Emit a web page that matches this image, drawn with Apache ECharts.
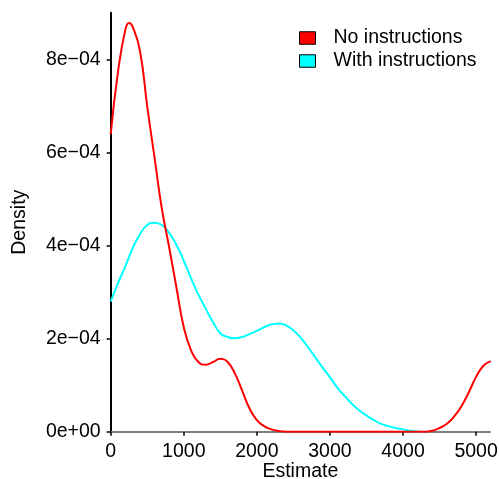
<!DOCTYPE html>
<html>
<head>
<meta charset="utf-8">
<script src="https://cdn.jsdelivr.net/npm/echarts@6/dist/echarts.min.js"></script>
<style>
  html, body { margin: 0; padding: 0; background: #fff; }
  #chart { width: 499px; height: 479px; }
</style>
</head>
<body>
<div id="chart"></div>
<script>
// density curves: [estimate, density in units of 1e-4]
var noInstr = [
  [0, 6.4], [100, 7.75], [200, 8.65], [250, 8.8], [300, 8.72], [400, 8.2],
  [500, 7.0], [600, 5.9], [700, 4.8], [800, 3.97], [900, 3.1], [1000, 2.25],
  [1100, 1.75], [1200, 1.5], [1300, 1.44], [1400, 1.5], [1500, 1.57],
  [1600, 1.5], [1700, 1.25], [1800, 0.88], [1900, 0.5], [2000, 0.25],
  [2100, 0.12], [2200, 0.05], [2300, 0.015], [2400, 0], [2600, 0], [2800, 0],
  [3000, 0], [3200, 0], [3400, 0], [3600, 0], [3800, 0], [4000, 0], [4200, 0],
  [4300, 0], [4400, 0.02], [4500, 0.08], [4600, 0.17], [4700, 0.33],
  [4800, 0.55], [4900, 0.85], [5000, 1.18], [5100, 1.42], [5200, 1.52]
];
var withInstr = [
  [0, 2.8], [100, 3.2], [200, 3.56], [300, 3.95], [400, 4.25], [500, 4.45],
  [600, 4.5], [700, 4.45], [800, 4.28], [900, 4.02], [1000, 3.68], [1100, 3.3],
  [1200, 2.95], [1300, 2.65], [1400, 2.36], [1500, 2.12], [1600, 2.04],
  [1700, 2.01], [1800, 2.04], [1900, 2.1], [2000, 2.17], [2100, 2.25],
  [2200, 2.31], [2300, 2.33], [2400, 2.29], [2500, 2.18], [2600, 2.02],
  [2700, 1.82], [2800, 1.6], [2900, 1.38], [3000, 1.17], [3100, 0.95],
  [3200, 0.77], [3300, 0.6], [3400, 0.46], [3500, 0.35], [3600, 0.25],
  [3700, 0.17], [3800, 0.12], [3900, 0.08], [4000, 0.05], [4100, 0.02],
  [4200, 0.005], [4230, 0]
];
var xTicks = [0, 1000, 2000, 3000, 4000, 5000];
var yTicks = [0, 2e-4, 4e-4, 6e-4, 8e-4];
var yTickLabels = ['0e+00', '2e\u221204', '4e\u221204', '6e\u221204', '8e\u221204'];
var seriesNames = ['No instructions', 'With instructions'];
var colors = ['#ff0000', '#00ffff'];

function scaleDown(arr) {
  return arr.map(function (p) { return [p[0], p[1] * 1e-4]; });
}

var font = 'Liberation Sans, Arial, sans-serif';
var chart = echarts.init(document.getElementById('chart'));

var option = {
  animation: false,
  backgroundColor: '#fff',
  grid: {
    left: 110.7, right: 9, top: 12.7, bottom: 47.3,
    containLabel: false, outerBoundsMode: 'none'
  },
  legend: {
    orient: 'vertical',
    left: 299,
    top: 28,
    padding: 0,
    itemWidth: 16,
    itemHeight: 12.5,
    itemGap: 3,
    textStyle: { fontFamily: font, fontSize: 19.5, color: '#000', padding: [0, 0, 0, 13] },
    data: seriesNames.map(function (n, i) {
      return { name: n, icon: 'rect', itemStyle: { color: colors[i], borderColor: '#000', borderWidth: 1 } };
    })
  },
  xAxis: {
    type: 'value',
    min: 0,
    max: 5190,
    name: 'Estimate',
    nameLocation: 'middle',
    nameGap: 30,
    nameMoveOverlap: false,
    nameTextStyle: { fontFamily: font, fontSize: 19.5, color: '#000' },
    splitLine: { show: false },
    axisLine: { show: true, lineStyle: { color: '#7f7f7f', width: 2 } },
    axisTick: { show: true, length: 4, customValues: xTicks, lineStyle: { color: '#000', width: 1.5 } },
    axisLabel: {
      customValues: xTicks, margin: 10, fontFamily: font, fontSize: 19.5, color: '#000',
      formatter: function (v) { return String(v); }
    }
  },
  yAxis: {
    type: 'value',
    min: 0,
    max: 9.02e-4,
    name: 'Density',
    nameLocation: 'middle',
    nameGap: 81,
    nameMoveOverlap: false,
    nameRotate: 90,
    nameTextStyle: { fontFamily: font, fontSize: 19.5, color: '#000' },
    splitLine: { show: false },
    axisLine: { show: true, lineStyle: { color: '#000', width: 2 } },
    axisTick: { show: true, length: 4, customValues: yTicks, lineStyle: { color: '#000', width: 1.5 } },
    axisLabel: {
      customValues: yTicks,
      margin: 10,
      fontFamily: font,
      fontSize: 19.5,
      color: '#000',
      formatter: function (v) {
        for (var i = 0; i < yTicks.length; i++) {
          if (Math.abs(v - yTicks[i]) < 1e-9) return yTickLabels[i];
        }
        return '';
      }
    }
  },
  series: [
    {
      name: seriesNames[0],
      type: 'line',
      data: scaleDown(noInstr),
      smooth: 0.5,
      showSymbol: false,
      lineStyle: { color: colors[0], width: 2 },
      itemStyle: { color: colors[0] },
      z: 3
    },
    {
      name: seriesNames[1],
      type: 'line',
      data: scaleDown(withInstr),
      smooth: 0.5,
      showSymbol: false,
      lineStyle: { color: colors[1], width: 2 },
      itemStyle: { color: colors[1] },
      z: 2
    }
  ]
};
chart.setOption(option);
</script>
</body>
</html>
